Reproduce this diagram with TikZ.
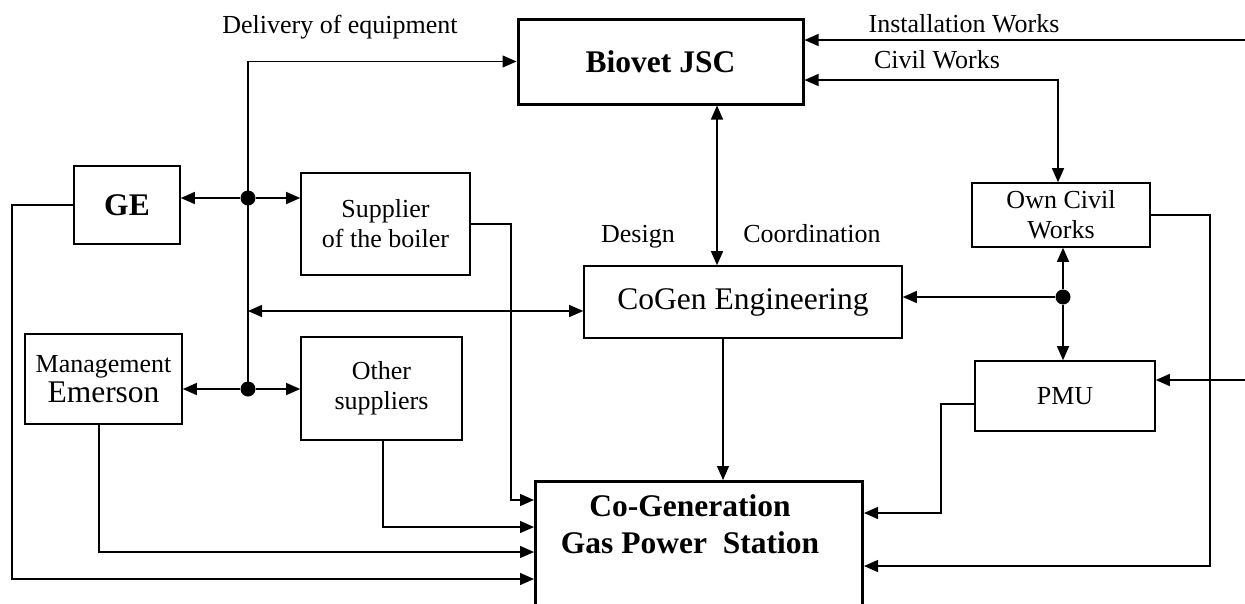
\documentclass[tikz,border=0pt]{standalone}
\usepackage{fontspec}
\setmainfont{Liberation Serif}
\usetikzlibrary{arrows.meta}
\tikzset{
  box/.style={draw, line width=1.6pt, inner sep=0pt, align=center, font=\fontsize{26}{30}\selectfont},
  bigbox/.style={box, line width=3pt},
  lbl/.style={inner sep=0pt, font=\fontsize{26}{30}\selectfont, anchor=base},
  conn/.style={line width=1.3pt},
  arr/.style={conn, -{Triangle[length=14pt,width=12pt]}},
  dbl/.style={conn, {Triangle[length=14pt,width=12pt]}-{Triangle[length=14pt,width=12pt]}},
  jdot/.style={circle, fill, inner sep=0pt, minimum size=15pt},
}
\begin{document}
\begin{tikzpicture}[x=1pt,y=-1pt]
\useasboundingbox (0,0) rectangle (1245,603);
\clip (0,0) rectangle (1245,603);
\fill[white] (0,0) rectangle (1245,603);

% boxes
\node[bigbox, minimum width=285pt, minimum height=85pt, font=\fontsize{31.5}{37}\selectfont\bfseries] (biovet) at (660.5,61.5) {Biovet JSC};
\node[box, minimum width=106pt, minimum height=78pt, font=\fontsize{31.5}{37}\selectfont\bfseries] (ge) at (127,205) {GE};
\node[box, minimum width=169pt, minimum height=102pt] (sup) at (385.5,224) {Supplier\\of the boiler};
\node[box, minimum width=318pt, minimum height=72pt, font=\fontsize{31.5}{37}\selectfont] (eng) at (743,302) {CoGen Engineering};
\node[box, minimum width=178pt, minimum height=64pt] (own) at (1061,215) {Own Civil\\Works};
\node[box, minimum width=180pt, minimum height=70pt] (pmu) at (1065,396) {PMU};
\node[box, minimum width=157pt, minimum height=90pt] (emer) at (103.5,379) {Management\\{\fontsize{31.5}{35}\selectfont Emerson}};
\node[box, minimum width=161pt, minimum height=103pt] (other) at (381.5,388.5) {Other\\suppliers};
\node[bigbox, anchor=north west, minimum width=327pt, minimum height=170pt] (cogen) at (534,480) {};
\node[font=\fontsize{31.5}{37}\selectfont\bfseries, align=center, inner sep=0pt] (cogentxt) at (690,524) {Co-Generation\\Gas Power\ \ Station};

% junction dots
\node[jdot] (j1) at (248,198) {};
\node[jdot] (j2) at (248,389) {};
\node[jdot] (j3) at (1063,297) {};

% helper coordinates
\coordinate (h1) at (248,311);
\coordinate (c1) at (717,180);
\coordinate (inst) at (1245,40);
\coordinate (civ) at (1058,80);
\coordinate (pin) at (1245,380);
\coordinate (pl) at (941,404);
\coordinate (pk) at (941,513);
\coordinate (ock) at (1210,566);
\coordinate (dk) at (723,400);
\coordinate (sk) at (511,500);
\coordinate (osk) at (383,527);
\coordinate (ek) at (99,552);
\coordinate (gk) at (12,579);

% connectors
\draw[conn] (j2.center) -- (j1.center);
\draw[arr] (j1.center) |- (biovet.west);
\draw[arr] (j1) -- (ge.east |- j1);
\draw[arr] (j1) -- (sup.west |- j1);
\draw[arr] (j2) -- (emer.east |- j2);
\draw[arr] (j2) -- (other.west |- j2);
\draw[dbl] (h1) -- (eng.west |- h1);
\draw[dbl] (biovet.south -| c1) -- (eng.north -| c1);
\draw[arr] (inst) -- (biovet.east |- inst);
\draw[dbl] (biovet.east |- civ) -- (civ) -- (own.north -| civ);
\draw[arr] (j3) -- (own.south -| j3);
\draw[arr] (j3) -- (pmu.north -| j3);
\draw[arr] (j3) -- (eng.east |- j3);
\draw[arr] (pin) -- (pmu.east |- pin);
\draw[arr] (pmu.west |- pl) -- (pl) -- (pk) -- (cogen.east |- pk);
\draw[arr] (own.east) -| (ock) -- (cogen.east |- ock);
\draw[arr] (eng.south -| dk) -- (cogen.north -| dk);
\draw[arr] (sup.east) -| (sk) -- (cogen.west |- sk);
\draw[arr] (other.south -| osk) -- (osk) -- (cogen.west |- osk);
\draw[arr] (emer.south -| ek) -- (ek) -- (cogen.west |- ek);
\draw[arr] (ge.west) -| (gk) -- (cogen.west |- gk);

% labels
\node[lbl] (ldel) at (340,33) {Delivery of equipment};
\node[lbl] (linst) at (964,32) {Installation Works};
\node[lbl] (lciv) at (937,68) {Civil Works};
\node[lbl] (ldes) at (638,242) {Design};
\node[lbl] (lcoord) at (812,242) {Coordination};
\end{tikzpicture}
\end{document}
